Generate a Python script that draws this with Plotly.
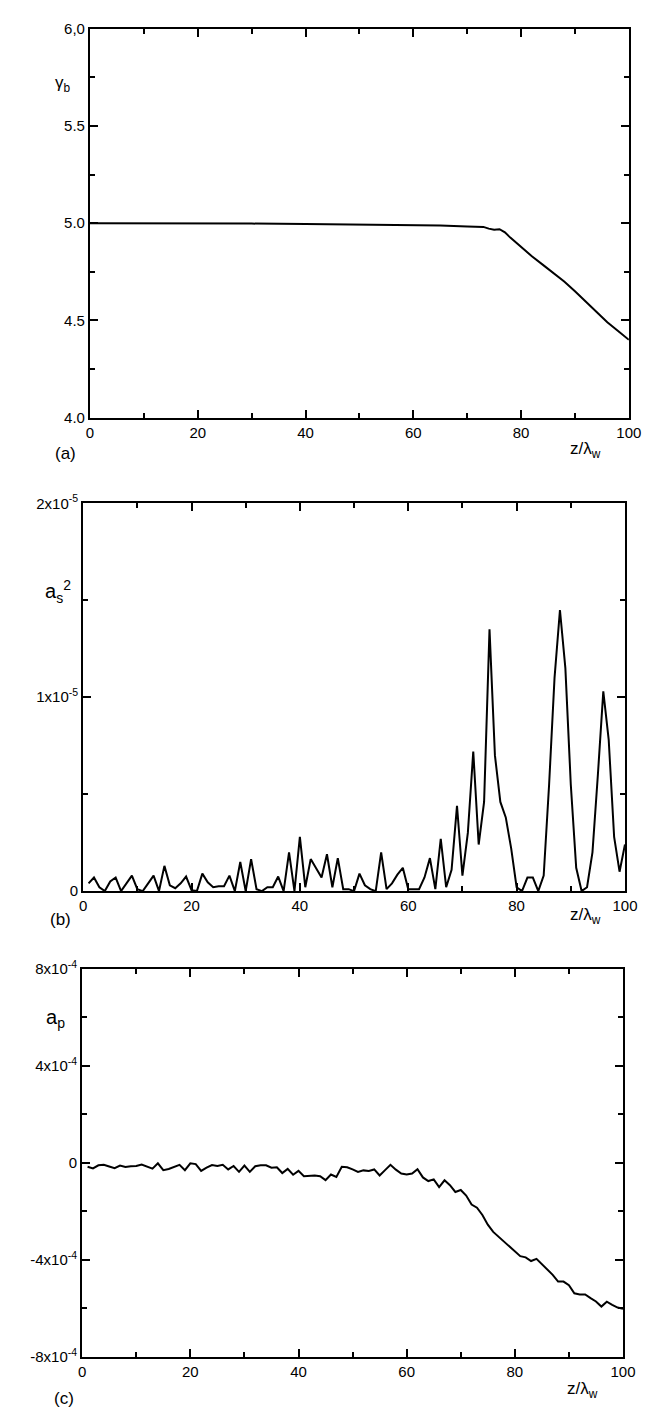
import plotly.graph_objects as go

# ---------------- data ----------------
z_gamma = [0, 10, 20, 30, 40, 50, 60, 65, 70, 72, 73, 74, 75, 76, 77, 78, 80, 82, 84, 86, 88, 90, 92, 94, 96, 98, 100]
gamma_b = [5.0, 5.0, 4.999, 4.998, 4.996, 4.993, 4.99, 4.988, 4.983, 4.98, 4.981, 4.972, 4.966, 4.969, 4.953, 4.926, 4.877, 4.83, 4.787, 4.745, 4.70, 4.65, 4.595, 4.54, 4.49, 4.445, 4.40]

z_int = list(range(1, 101))
as2_e5 = [0.04, 0.07, 0.02, 0.0, 0.05, 0.07, 0.0, 0.04, 0.08, 0.01,
          0.0, 0.04, 0.08, 0.0, 0.13, 0.03, 0.015, 0.04, 0.075, 0.005,
          0.0, 0.09, 0.045, 0.02, 0.025, 0.025, 0.08, 0.0, 0.15, 0.0,
          0.165, 0.01, 0.0, 0.02, 0.02, 0.075, 0.0, 0.20, 0.0, 0.28,
          0.02, 0.165, 0.12, 0.07, 0.19, 0.02, 0.17, 0.01, 0.01, 0.0,
          0.09, 0.03, 0.01, 0.0, 0.20, 0.01, 0.04, 0.085, 0.12, 0.01,
          0.01, 0.01, 0.07, 0.17, 0.01, 0.27, 0.02, 0.11, 0.44, 0.08,
          0.30, 0.72, 0.24, 0.46, 1.35, 0.70, 0.46, 0.38, 0.22, 0.02,
          0.0, 0.07, 0.07, 0.0, 0.08, 0.55, 1.10, 1.45, 1.15, 0.55,
          0.12, 0.0, 0.02, 0.20, 0.60, 1.03, 0.78, 0.28, 0.10, 0.24]
as2 = [v * 1e-5 for v in as2_e5]

ap_e4 = [-0.16, -0.23, -0.10, -0.08, -0.15, -0.22, -0.11, -0.17, -0.14, -0.13,
         -0.07, -0.16, -0.24, -0.02, -0.30, -0.25, -0.18, -0.08, -0.30, -0.02,
         -0.05, -0.33, -0.20, -0.09, -0.13, -0.08, -0.27, -0.13, -0.37, -0.11,
         -0.37, -0.14, -0.10, -0.10, -0.20, -0.18, -0.42, -0.25, -0.49, -0.33,
         -0.55, -0.52, -0.52, -0.55, -0.71, -0.48, -0.58, -0.16, -0.18, -0.27,
         -0.37, -0.31, -0.33, -0.27, -0.52, -0.30, -0.08, -0.28, -0.44, -0.48,
         -0.44, -0.26, -0.60, -0.75, -0.68, -1.00, -0.72, -0.92, -1.20, -1.12,
         -1.35, -1.72, -1.85, -2.15, -2.55, -2.85, -3.05, -3.28, -3.45, -3.65,
         -3.85, -3.90, -4.05, -3.96, -4.18, -4.40, -4.62, -4.90, -4.90, -5.05,
         -5.38, -5.43, -5.43, -5.58, -5.72, -5.93, -5.73, -5.86, -5.97, -6.02]
ap = [v * 1e-4 for v in ap_e4]

x_ticks = [0, 20, 40, 60, 80, 100]
x_tick_labels = ["0", "20", "40", "60", "80", "100"]
x_minor = [10, 30, 50, 70, 90]

ya_ticks = [4.0, 4.5, 5.0, 5.5, 6.0]
ya_labels = ["4.0", "4.5", "5.0", "5.5", "6,0"]
ya_minor = [4.25, 4.75, 5.25, 5.75]

yb_ticks = [0, 1e-5, 2e-5]
yb_labels = ["0", "1x10<sup>-5</sup>", "2x10<sup>-5</sup>"]
yb_minor = [0.5e-5, 1.5e-5]

yc_ticks = [-8e-4, -4e-4, 0, 4e-4, 8e-4]
yc_labels = ["-8x10<sup>-4</sup>", "-4x10<sup>-4</sup>", "0", "4x10<sup>-4</sup>", "8x10<sup>-4</sup>"]
yc_minor = [-6e-4, -2e-4, 2e-4, 6e-4]

# ---------------- layout ----------------
W, H = 667, 1410
FONT = "Liberation Sans, Arial, sans-serif"

def px_x(p):
    return p / W

def px_y(p):
    return 1 - p / H

panels = [
    # (left, right, top, bottom) in pixels
    (80, 633, 10, 404),
    (73, 629, 491, 884),
    (72, 627, 963, 1356),
]

fig = go.Figure()
line = dict(color="black", width=2)
fig.add_trace(go.Scatter(x=z_gamma, y=gamma_b, mode="lines", line=line, xaxis="x", yaxis="y", showlegend=False))
fig.add_trace(go.Scatter(x=z_int, y=as2, mode="lines", line=line, xaxis="x2", yaxis="y2", showlegend=False))
fig.add_trace(go.Scatter(x=z_int, y=ap, mode="lines", line=line, xaxis="x3", yaxis="y3", showlegend=False))

common_ax = dict(
    showline=True, linecolor="black", linewidth=2, mirror="allticks",
    ticks="inside", ticklen=8, tickwidth=1.5, tickcolor="black",
    showgrid=False, zeroline=False,
    tickfont=dict(family=FONT, size=15, color="black"),
)

yinfo = [
    ([4, 6], ya_ticks, ya_labels, ya_minor),
    ([0, 2e-5], yb_ticks, yb_labels, yb_minor),
    ([-8e-4, 8e-4], yc_ticks, yc_labels, yc_minor),
]

layout = dict(
    width=W, height=H, margin=dict(l=0, r=0, t=0, b=0),
    paper_bgcolor="white", plot_bgcolor="white", showlegend=False,
)
for i, ((l, r, t, b), (yr, yt, yl, ym)) in enumerate(zip(panels, yinfo)):
    sfx = "" if i == 0 else str(i + 1)
    layout["xaxis" + sfx] = dict(
        common_ax, domain=[px_x(l), px_x(r)], range=[0, 100],
        tickmode="array", tickvals=x_ticks, ticktext=x_tick_labels,
        minor=dict(tickmode="array", tickvals=x_minor, ticks="inside", ticklen=5, tickwidth=1.5, tickcolor="black"),
        anchor="y" + sfx,
    )
    layout["yaxis" + sfx] = dict(
        common_ax, domain=[px_y(b), px_y(t)], range=yr,
        tickmode="array", tickvals=yt, ticktext=yl,
        minor=dict(tickmode="array", tickvals=ym, ticks="inside", ticklen=5, tickwidth=1.5, tickcolor="black"),
        anchor="x" + sfx,
    )

fig.update_layout(**layout)

annotations = [
    (52, 66, "γ<sub>b</sub>", 17),
    (47, 580, "a<sub>s</sub><sup>2</sup>", 20),
    (45, 1013, "a<sub>p</sub>", 20),
    (589, 437, "z/λ<sub>w</sub>", 17),
    (589, 909, "z/λ<sub>w</sub>", 17),
    (585, 1390, "z/λ<sub>w</sub>", 17),
    (55, 440, "(a)", 17),
    (50, 913, "(b)", 17),
    (53, 1398, "(c)", 17),
]
for x, y, txt, sz in annotations:
    fig.add_annotation(x=px_x(x), y=px_y(y), xref="paper", yref="paper", text=txt,
                       showarrow=False, xanchor="center", yanchor="middle",
                       font=dict(family=FONT, size=sz, color="black"))

fig.write_html("out.html")
